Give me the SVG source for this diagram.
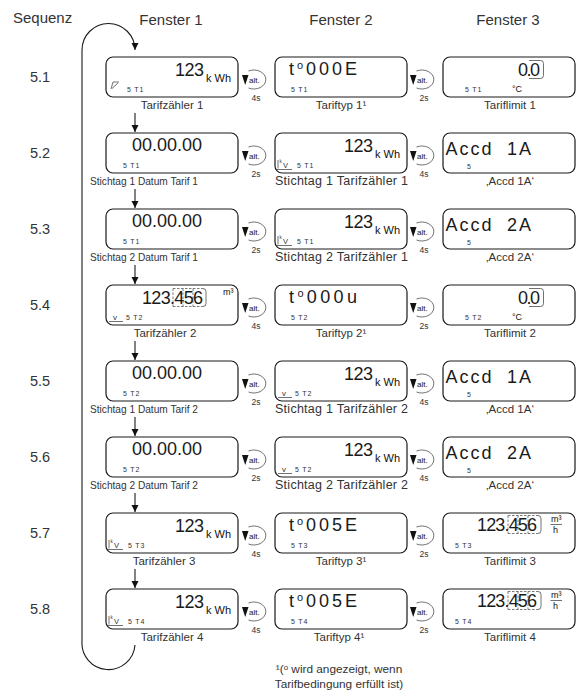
<svg xmlns="http://www.w3.org/2000/svg" width="584" height="697" viewBox="0 0 584 697">
<style>
text{font-family:"Liberation Sans",Arial,sans-serif;fill:#333}
.box{fill:#fff;stroke:#1a1a1a;stroke-width:1.2}
.lcd{font-size:18px;fill:#1a1a1a}
.unit{font-size:11px;fill:#111}
.u2{font-size:9px;fill:#111}
.s{font-size:7px;letter-spacing:0.8px;fill:#333}
.lbl{font-size:11.5px;text-anchor:middle}
.lbs{font-size:11px}
.hdr{font-size:15px}
.hdc{font-size:15px;text-anchor:middle}
.seq{font-size:14.5px}
.t{font-size:8.5px;text-anchor:middle}
.alt{font-size:8px;fill:#111}
.fn{font-size:11.8px;text-anchor:middle}
.ln{fill:none;stroke:#1a1a1a;stroke-width:1.1}
.thin{fill:none;stroke:#333;stroke-width:0.7}
.dash{fill:none;stroke:#444;stroke-width:0.7;stroke-dasharray:2.5 1.5}
</style>
<defs>
<marker id="ah" markerWidth="8" markerHeight="8" refX="7" refY="4" orient="auto" markerUnits="userSpaceOnUse"><path d="M0,0.5 L7,4 L0,7.5 z" fill="#111"/></marker>
<g id="alt"><path class="thin" d="M6.5 -8.5 A12 9.5 0 1 1 6.5 8.5"/><polygon points="0,-4.5 6.5,-4.5 3.2,5.5" fill="#111"/></g>
<path id="ic1" class="thin" d="M5 32 L7 25 H13 M6 31.5 L12 26"/>
<path id="kvp" class="thin" d="M3 27 V35.5 M2 36.5 H17"/>
<path id="vup" class="thin" d="M3 36.5 H17"/>
<path id="brk" class="thin" d="M86 3.5 H97.5 Q100.5 3.5 100.5 6.5 V18.5 Q100.5 21.5 97.5 21.5 H86"/>
</defs>

<g id="headers">
<text class="hdr" x="13" y="23">Sequenz</text>
<text class="hdc" x="171" y="25">Fenster 1</text>
<text class="hdc" x="341" y="25">Fenster 2</text>
<text class="hdc" x="508" y="25">Fenster 3</text>
</g>

<g id="rowlabels">
<text class="seq" x="30" y="82">5.1</text>
<text class="seq" x="30" y="158">5.2</text>
<text class="seq" x="30" y="234">5.3</text>
<text class="seq" x="30" y="310">5.4</text>
<text class="seq" x="30" y="386">5.5</text>
<text class="seq" x="30" y="462">5.6</text>
<text class="seq" x="30" y="538">5.7</text>
<text class="seq" x="30" y="614">5.8</text>
</g>

<g id="connectors">
<path class="ln" d="M135 645 A26.5 26.5 0 0 1 82 641 V50 A26.5 26.5 0 0 1 135 50" marker-end="url(#ah)"/>
<path class="ln" d="M135 113 V132" marker-end="url(#ah)"/>
<path class="ln" d="M135 189 V208" marker-end="url(#ah)"/>
<path class="ln" d="M135 265 V284" marker-end="url(#ah)"/>
<path class="ln" d="M135 341 V360" marker-end="url(#ah)"/>
<path class="ln" d="M135 417 V436" marker-end="url(#ah)"/>
<path class="ln" d="M135 493 V512" marker-end="url(#ah)"/>
<path class="ln" d="M135 569 V588" marker-end="url(#ah)"/>
</g>

<g id="alt-buttons">
<g transform="translate(242,79.5)"><use href="#alt"/><text class="alt" x="7" y="3">alt.</text></g>
<g transform="translate(410,79.5)"><use href="#alt"/><text class="alt" x="7" y="3">alt.</text></g>
<text class="t" x="256" y="101">4s</text><text class="t" x="424" y="101">2s</text>
<g transform="translate(242,155.5)"><use href="#alt"/><text class="alt" x="7" y="3">alt.</text></g>
<g transform="translate(410,155.5)"><use href="#alt"/><text class="alt" x="7" y="3">alt.</text></g>
<text class="t" x="256" y="177">2s</text><text class="t" x="424" y="177">4s</text>
<g transform="translate(242,231.5)"><use href="#alt"/><text class="alt" x="7" y="3">alt.</text></g>
<g transform="translate(410,231.5)"><use href="#alt"/><text class="alt" x="7" y="3">alt.</text></g>
<text class="t" x="256" y="253">2s</text><text class="t" x="424" y="253">4s</text>
<g transform="translate(242,307.5)"><use href="#alt"/><text class="alt" x="7" y="3">alt.</text></g>
<g transform="translate(410,307.5)"><use href="#alt"/><text class="alt" x="7" y="3">alt.</text></g>
<text class="t" x="256" y="329">4s</text><text class="t" x="424" y="329">2s</text>
<g transform="translate(242,383.5)"><use href="#alt"/><text class="alt" x="7" y="3">alt.</text></g>
<g transform="translate(410,383.5)"><use href="#alt"/><text class="alt" x="7" y="3">alt.</text></g>
<text class="t" x="256" y="405">2s</text><text class="t" x="424" y="405">4s</text>
<g transform="translate(242,459.5)"><use href="#alt"/><text class="alt" x="7" y="3">alt.</text></g>
<g transform="translate(410,459.5)"><use href="#alt"/><text class="alt" x="7" y="3">alt.</text></g>
<text class="t" x="256" y="481">2s</text><text class="t" x="424" y="481">4s</text>
<g transform="translate(242,535.5)"><use href="#alt"/><text class="alt" x="7" y="3">alt.</text></g>
<g transform="translate(410,535.5)"><use href="#alt"/><text class="alt" x="7" y="3">alt.</text></g>
<text class="t" x="256" y="557">4s</text><text class="t" x="424" y="557">2s</text>
<g transform="translate(242,611.5)"><use href="#alt"/><text class="alt" x="7" y="3">alt.</text></g>
<g transform="translate(410,611.5)"><use href="#alt"/><text class="alt" x="7" y="3">alt.</text></g>
<text class="t" x="256" y="633">4s</text><text class="t" x="424" y="633">2s</text>
</g>

<!-- Row 5.1 -->
<g id="r1-f1" transform="translate(106,57)"><rect class="box" width="132" height="40" rx="7"/>
<text class="lcd" x="69" y="19" textLength="29">123</text><text class="unit" x="100" y="25">k Wh</text>
<use href="#ic1"/><text class="s" x="21" y="35">5 T1</text>
<text class="lbl" x="66" y="52">Tarifzähler 1</text></g>
<g id="r1-f2" transform="translate(275,57)"><rect class="box" width="132" height="40" rx="7"/>
<text class="lcd" x="14" y="18" textLength="68">t<tspan font-size="11" dy="-6">o</tspan><tspan dy="6">000E</tspan></text>
<text class="s" x="16" y="35">5 T1</text>
<text class="lbl" x="66" y="52">Tariftyp 1¹</text></g>
<g id="r1-f3" transform="translate(443,57)"><rect class="box" width="132" height="40" rx="7"/>
<text class="lcd" x="75" y="19" textLength="22">0.0</text><use href="#brk"/>
<text class="s" x="22" y="35">5 T1</text><text class="u2" x="69" y="35">°C</text>
<text class="lbl" x="67" y="52">Tariflimit 1</text></g>

<!-- Row 5.2 -->
<g id="r2-f1" transform="translate(106,133)"><rect class="box" width="132" height="40" rx="7"/>
<text class="lcd" x="26" y="18" textLength="70">00.00.00</text>
<text class="s" x="17" y="35">5 T1</text>
<text class="lbs" x="-16" y="52" textLength="108" lengthAdjust="spacingAndGlyphs">Stichtag 1 Datum Tarif 1</text></g>
<g id="r2-f2" transform="translate(275,133)"><rect class="box" width="132" height="40" rx="7"/>
<text class="lcd" x="69" y="19" textLength="29">123</text><text class="unit" x="100" y="25">k Wh</text>
<use href="#kvp"/><text x="4.5" y="30" style="font-size:4.5px">k</text><text x="8" y="35" style="font-size:7.5px">V</text>
<text class="s" x="22" y="35">5 T1</text>
<text class="lbs" x="0" y="52" style="font-size:12.5px" textLength="133">Stichtag 1 Tarifzähler 1</text></g>
<g id="r2-f3" transform="translate(443,133)"><rect class="box" width="132" height="40" rx="7"/>
<text class="lcd" x="2.5" y="22" font-size="17" letter-spacing="2">Accd <tspan x="64">1A</tspan></text>
<text class="s" x="24" y="36">5</text>
<text class="lbl" x="67" y="52">‚Accd 1A‘</text></g>

<!-- Row 5.3 -->
<g id="r3-f1" transform="translate(106,209)"><rect class="box" width="132" height="40" rx="7"/>
<text class="lcd" x="26" y="18" textLength="70">00.00.00</text>
<text class="s" x="17" y="35">5 T1</text>
<text class="lbs" x="-16" y="52" textLength="108" lengthAdjust="spacingAndGlyphs">Stichtag 2 Datum Tarif 1</text></g>
<g id="r3-f2" transform="translate(275,209)"><rect class="box" width="132" height="40" rx="7"/>
<text class="lcd" x="69" y="19" textLength="29">123</text><text class="unit" x="100" y="25">k Wh</text>
<use href="#kvp"/><text x="4.5" y="30" style="font-size:4.5px">k</text><text x="8" y="35" style="font-size:7.5px">V</text>
<text class="s" x="22" y="35">5 T1</text>
<text class="lbs" x="0" y="52" style="font-size:12.5px" textLength="133">Stichtag 2 Tarifzähler 1</text></g>
<g id="r3-f3" transform="translate(443,209)"><rect class="box" width="132" height="40" rx="7"/>
<text class="lcd" x="2.5" y="22" font-size="17" letter-spacing="2">Accd <tspan x="64">2A</tspan></text>
<text class="s" x="24" y="36">5</text>
<text class="lbl" x="67" y="52">‚Accd 2A‘</text></g>

<!-- Row 5.4 -->
<g id="r4-f1" transform="translate(106,285)"><rect class="box" width="132" height="40" rx="7"/>
<text class="lcd" x="36" y="19" textLength="61">123.456</text>
<path class="dash" d="M67 3.5 H97 M67 21.5 H97 M67 3.5 V21.5 M77 3.5 V21.5 M87 3.5 V21.5"/>
<path class="thin" d="M97 3.5 Q100 3.5 100 6.5 V18.5 Q100 21.5 97 21.5"/>
<text class="u2" x="117" y="10">m³</text>
<text x="7" y="34.5" style="font-size:8px">v</text><use href="#vup"/>
<text class="s" x="20" y="35">5 T2</text>
<text class="lbl" x="59" y="52">Tarifzähler 2</text></g>
<g id="r4-f2" transform="translate(275,285)"><rect class="box" width="132" height="40" rx="7"/>
<text class="lcd" x="14" y="18" textLength="68">t<tspan font-size="11" dy="-6">o</tspan><tspan dy="6">000u</tspan></text>
<text class="s" x="16" y="35">5 T2</text>
<text class="lbl" x="66" y="52">Tariftyp 2¹</text></g>
<g id="r4-f3" transform="translate(443,285)"><rect class="box" width="132" height="40" rx="7"/>
<text class="lcd" x="75" y="19" textLength="22">0.0</text><use href="#brk"/>
<text class="s" x="22" y="35">5 T2</text><text class="u2" x="69" y="35">°C</text>
<text class="lbl" x="67" y="52">Tariflimit 2</text></g>

<!-- Row 5.5 -->
<g id="r5-f1" transform="translate(106,361)"><rect class="box" width="132" height="40" rx="7"/>
<text class="lcd" x="26" y="18" textLength="70">00.00.00</text>
<text class="s" x="17" y="35">5 T2</text>
<text class="lbs" x="-16" y="52" textLength="108" lengthAdjust="spacingAndGlyphs">Stichtag 1 Datum Tarif 2</text></g>
<g id="r5-f2" transform="translate(275,361)"><rect class="box" width="132" height="40" rx="7"/>
<text class="lcd" x="69" y="19" textLength="29">123</text><text class="unit" x="100" y="25">k Wh</text>
<text x="7" y="34.5" style="font-size:8px">v</text><use href="#vup"/>
<text class="s" x="20" y="35">5 T2</text>
<text class="lbs" x="0" y="52" style="font-size:12.5px" textLength="133">Stichtag 1 Tarifzähler 2</text></g>
<g id="r5-f3" transform="translate(443,361)"><rect class="box" width="132" height="40" rx="7"/>
<text class="lcd" x="2.5" y="22" font-size="17" letter-spacing="2">Accd <tspan x="64">1A</tspan></text>
<text class="s" x="24" y="36">5</text>
<text class="lbl" x="67" y="52">‚Accd 1A‘</text></g>

<!-- Row 5.6 -->
<g id="r6-f1" transform="translate(106,437)"><rect class="box" width="132" height="40" rx="7"/>
<text class="lcd" x="26" y="18" textLength="70">00.00.00</text>
<text class="s" x="17" y="35">5 T2</text>
<text class="lbs" x="-16" y="52" textLength="108" lengthAdjust="spacingAndGlyphs">Stichtag 2 Datum Tarif 2</text></g>
<g id="r6-f2" transform="translate(275,437)"><rect class="box" width="132" height="40" rx="7"/>
<text class="lcd" x="69" y="19" textLength="29">123</text><text class="unit" x="100" y="25">k Wh</text>
<text x="7" y="34.5" style="font-size:8px">v</text><use href="#vup"/>
<text class="s" x="20" y="35">5 T2</text>
<text class="lbs" x="0" y="52" style="font-size:12.5px" textLength="133">Stichtag 2 Tarifzähler 2</text></g>
<g id="r6-f3" transform="translate(443,437)"><rect class="box" width="132" height="40" rx="7"/>
<text class="lcd" x="2.5" y="22" font-size="17" letter-spacing="2">Accd <tspan x="64">2A</tspan></text>
<text class="s" x="24" y="36">5</text>
<text class="lbl" x="67" y="52">‚Accd 2A‘</text></g>

<!-- Row 5.7 -->
<g id="r7-f1" transform="translate(106,513)"><rect class="box" width="132" height="40" rx="7"/>
<text class="lcd" x="69" y="19" textLength="29">123</text><text class="unit" x="100" y="25">k Wh</text>
<use href="#kvp"/><text x="4.5" y="30" style="font-size:4.5px">k</text><text x="8" y="35" style="font-size:7.5px">V</text>
<text class="s" x="22" y="35">5 T3</text>
<text class="lbl" x="58" y="52">Tarifzähler 3</text></g>
<g id="r7-f2" transform="translate(275,513)"><rect class="box" width="132" height="40" rx="7"/>
<text class="lcd" x="14" y="18" textLength="68">t<tspan font-size="11" dy="-6">o</tspan><tspan dy="6">005E</tspan></text>
<text class="s" x="16" y="35">5 T3</text>
<text class="lbl" x="66" y="52">Tariftyp 3¹</text></g>
<g id="r7-f3" transform="translate(443,513)"><rect class="box" width="132" height="40" rx="7"/>
<text class="lcd" x="34" y="18" textLength="60">123.456</text>
<path class="dash" d="M65 2.5 H95 M65 20.5 H95 M65 2.5 V20.5 M75 2.5 V20.5 M85 2.5 V20.5"/>
<path class="thin" d="M95 2.5 Q98 2.5 98 5.5 V17.5 Q98 20.5 95 20.5"/>
<text class="u2" x="108" y="9">m³</text><path class="thin" d="M107.5 11.5 H119"/><text class="u2" x="110" y="20">h</text>
<text class="s" x="12" y="35">5 T3</text>
<text class="lbl" x="67" y="52">Tariflimit 3</text></g>

<!-- Row 5.8 -->
<g id="r8-f1" transform="translate(106,589)"><rect class="box" width="132" height="40" rx="7"/>
<text class="lcd" x="69" y="19" textLength="29">123</text><text class="unit" x="100" y="25">k Wh</text>
<use href="#kvp"/><text x="4.5" y="30" style="font-size:4.5px">k</text><text x="8" y="35" style="font-size:7.5px">V</text>
<text class="s" x="22" y="35">5 T4</text>
<text class="lbl" x="66" y="52">Tarifzähler 4</text></g>
<g id="r8-f2" transform="translate(275,589)"><rect class="box" width="132" height="40" rx="7"/>
<text class="lcd" x="14" y="18" textLength="68">t<tspan font-size="11" dy="-6">o</tspan><tspan dy="6">005E</tspan></text>
<text class="s" x="16" y="35">5 T4</text>
<text class="lbl" x="64" y="52">Tariftyp 4¹</text></g>
<g id="r8-f3" transform="translate(443,589)"><rect class="box" width="132" height="40" rx="7"/>
<text class="lcd" x="34" y="18" textLength="60">123.456</text>
<path class="dash" d="M65 2.5 H95 M65 20.5 H95 M65 2.5 V20.5 M75 2.5 V20.5 M85 2.5 V20.5"/>
<path class="thin" d="M95 2.5 Q98 2.5 98 5.5 V17.5 Q98 20.5 95 20.5"/>
<text class="u2" x="108" y="9">m³</text><path class="thin" d="M107.5 11.5 H119"/><text class="u2" x="110" y="20">h</text>
<text class="s" x="12" y="35">5 T4</text>
<text class="lbl" x="67" y="52">Tariflimit 4</text></g>

<g id="footnote">
<text class="fn" x="339" y="673">¹(<tspan font-size="8" dy="-3">o</tspan><tspan dy="3"> wird angezeigt, wenn</tspan></text>
<text class="fn" x="339" y="688">Tarifbedingung erfüllt ist)</text>
</g>
</svg>
